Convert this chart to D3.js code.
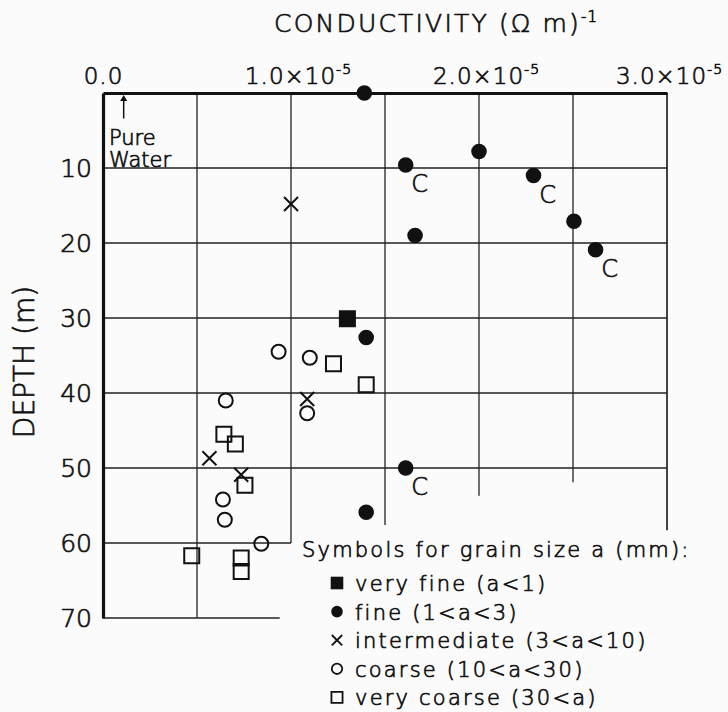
<!DOCTYPE html>
<html>
<head>
<meta charset="utf-8">
<script src="https://cdn.jsdelivr.net/npm/d3@7"></script>
<style>
body { margin: 0; background: #fbfbfb; }
text { font-family: "DejaVu Sans"; font-weight: 200; fill: #111; stroke: #111; stroke-width: 0.7px; }
</style>
</head>
<body>
<div id="chart"></div>
<script>
// conductivity in (ohm m)^-1, depth in m
var veryFine = [[1.30e-5, 30.1]];
var fine = [
    [1.39e-5, 0.0, ""], [1.61e-5, 9.6, "C"], [2.00e-5, 7.8, ""], [2.29e-5, 11.0, "C"],
    [2.505e-5, 17.1, ""], [2.62e-5, 20.9, "C"], [1.66e-5, 19.0, ""], [1.40e-5, 32.6, ""],
    [1.61e-5, 50.0, "C"], [1.40e-5, 55.9, ""]
];
var intermediate = [[1.00e-5, 14.8], [1.086e-5, 40.8], [0.566e-5, 48.7], [0.735e-5, 50.9]];
var coarse = [
    [0.934e-5, 34.5], [1.10e-5, 35.3], [1.086e-5, 42.7], [0.653e-5, 41.0],
    [0.638e-5, 54.2], [0.648e-5, 56.9], [0.842e-5, 60.1]
];
var veryCoarse = [
    [1.226e-5, 36.1], [1.40e-5, 38.9], [0.643e-5, 45.5], [0.704e-5, 46.8],
    [0.755e-5, 52.3], [0.472e-5, 61.7], [0.735e-5, 62.0], [0.735e-5, 63.8]
];
var pureWater = 0.11e-5;

var xTicks = [0, 1e-5, 2e-5, 3e-5];
var yTicks = [10, 20, 30, 40, 50, 60, 70];
var gridX = [0.5e-5, 1.0e-5, 1.5e-5, 2.0e-5, 2.5e-5, 3.0e-5];
var gridXEnd = [70, 60, 57.6, 53.7, 51.9, 58.3];
var gridY = [10, 20, 30, 40, 50, 60, 70];
var gridYEnd = [3e-5, 3e-5, 3e-5, 3e-5, 3e-5, 1.0e-5, 0.94e-5];

var legendItems = [
    {name: "very fine (a<1)", type: "veryFine"},
    {name: "fine (1<a<3)", type: "fine"},
    {name: "intermediate (3<a<10)", type: "intermediate"},
    {name: "coarse (10<a<30)", type: "coarse"},
    {name: "very coarse (30<a)", type: "veryCoarse"}
];

var width = 728, height = 712;
var svg = d3.select("#chart").append("svg")
    .attr("width", width)
    .attr("height", height);

var x = d3.scaleLinear().domain([0, 3e-5]).range([103, 667]);
var y = d3.scaleLinear().domain([0, 70]).range([93, 618]);

// grid
svg.append("g").selectAll("line")
    .data(gridX)
    .enter().append("line")
    .attr("x1", function(d) { return x(d) })
    .attr("x2", function(d) { return x(d) })
    .attr("y1", y(0))
    .attr("y2", function(d, i) { return y(gridXEnd[i]) })
    .attr("stroke", "#222")
    .attr("stroke-width", function(d, i) { return i === gridX.length - 1 ? 1.7 : 1.3 });

svg.append("g").selectAll("line")
    .data(gridY)
    .enter().append("line")
    .attr("x1", x(0))
    .attr("x2", function(d, i) { return x(gridYEnd[i]) })
    .attr("y1", function(d) { return y(d) })
    .attr("y2", function(d) { return y(d) })
    .attr("stroke", "#222")
    .attr("stroke-width", 1.3);

// axes
var xAxis = svg.append("g")
    .attr("transform", "translate(0," + y(0) + ")")
    .call(d3.axisTop(x).tickValues(xTicks).tickSize(0).tickSizeOuter(0).tickPadding(9));
xAxis.select(".domain").attr("stroke", "#111").attr("stroke-width", 3.2);
xAxis.selectAll(".tick text")
    .style("font-size", "23px")
    .style("letter-spacing", "1px")
    .attr("fill", "#111")
    .each(function(d) {
        var t = d3.select(this).text("");
        if (d === 0) {
            t.append("tspan").text("0.0");
        } else {
            t.attr("dx", d === 3e-5 ? 2 : 7);
            t.append("tspan").text((d / 1e-5).toFixed(1) + "×10");
            t.append("tspan").attr("dy", -10).style("font-size", "14px").text("-5");
        }
    });

var yAxis = svg.append("g")
    .attr("transform", "translate(" + x(0) + ",0)")
    .call(d3.axisLeft(y).tickValues(yTicks).tickSize(0).tickSizeOuter(0).tickPadding(11));
yAxis.select(".domain").attr("stroke", "#111").attr("stroke-width", 3.2);
yAxis.selectAll(".tick text")
    .style("font-size", "25px")
    .attr("fill", "#111");

svg.append("text")
    .attr("x", 274)
    .attr("y", 32)
    .style("font-size", "25px")
    .style("letter-spacing", "2.2px")
    .text("CONDUCTIVITY (Ω m)")
    .append("tspan")
    .attr("dy", -10)
    .style("font-size", "15px")
    .style("letter-spacing", "1px")
    .text("-1");

svg.append("text")
    .attr("transform", "translate(34," + 362 + ") rotate(-90)")
    .style("text-anchor", "middle")
    .style("font-size", "28px")
    .text("DEPTH (m)");

// pure water note
svg.append("line")
    .attr("x1", x(pureWater)).attr("x2", x(pureWater))
    .attr("y1", y(3.4)).attr("y2", y(0.6))
    .attr("stroke", "#111").attr("stroke-width", 1.5);
svg.append("path")
    .attr("d", d3.symbol().type(d3.symbolTriangle).size(22))
    .attr("transform", "translate(" + x(pureWater) + "," + (y(0) + 6) + ")")
    .attr("fill", "#111");
svg.append("text").attr("x", 109).attr("y", 145).style("font-size", "21px").text("Pure");
svg.append("text").attr("x", 109).attr("y", 167).style("font-size", "21px").text("Water");

// symbols
var timesShape = {
    draw: function(context, size) {
        var r = Math.sqrt(size) / 2;
        context.moveTo(-r, -r); context.lineTo(r, r);
        context.moveTo(-r, r); context.lineTo(r, -r);
    }
};
var styles = {
    veryFine: {type: d3.symbolSquare, size: 17 * 17, fill: "#111", stroke: "none"},
    fine: {type: d3.symbolCircle, size: Math.PI * 7.8 * 7.8, fill: "#111", stroke: "none"},
    intermediate: {type: timesShape, size: 14 * 14, fill: "none", stroke: "#111"},
    coarse: {type: d3.symbolCircle, size: Math.PI * 7 * 7, fill: "none", stroke: "#111"},
    veryCoarse: {type: d3.symbolSquare, size: 15 * 15, fill: "none", stroke: "#111"}
};

function addPoints(data, key) {
    var s = styles[key];
    svg.append("g").selectAll("path")
        .data(data)
        .enter().append("path")
        .attr("d", d3.symbol().type(s.type).size(s.size))
        .attr("transform", function(d) { return "translate(" + x(d[0]) + "," + y(d[1]) + ")" })
        .attr("fill", s.fill)
        .attr("stroke", s.stroke)
        .attr("stroke-width", 2);
}
addPoints(veryCoarse, "veryCoarse");
addPoints(coarse, "coarse");
addPoints(intermediate, "intermediate");
addPoints(veryFine, "veryFine");
addPoints(fine, "fine");

svg.append("g").selectAll("text")
    .data(fine.filter(function(d) { return d[2] }))
    .enter().append("text")
    .attr("x", function(d) { return x(d[0]) + 14 })
    .attr("y", function(d) { return y(d[1]) + 27 })
    .style("text-anchor", "middle")
    .style("font-size", "24px")
    .text(function(d) { return d[2] });

// legend
svg.append("text")
    .attr("x", 302)
    .attr("y", 557)
    .style("font-size", "21px")
    .style("letter-spacing", "2.2px")
    .text("Symbols for grain size a (mm):");

var legend = svg.selectAll(".legend")
    .data(legendItems)
    .enter().append("g")
    .attr("transform", function(d, i) { return "translate(337," + (583 + i * 28.6) + ")" });

legend.append("path")
    .attr("d", function(d) {
        var s = styles[d.type];
        return d3.symbol().type(s.type).size(s.size * 0.55)();
    })
    .attr("fill", function(d) { return styles[d.type].fill })
    .attr("stroke", function(d) { return styles[d.type].stroke })
    .attr("stroke-width", 1.8);

legend.append("text")
    .attr("x", 18)
    .attr("y", 8)
    .style("font-size", "21px")
    .style("letter-spacing", "2.2px")
    .text(function(d) { return d.name });
</script>
</body>
</html>
